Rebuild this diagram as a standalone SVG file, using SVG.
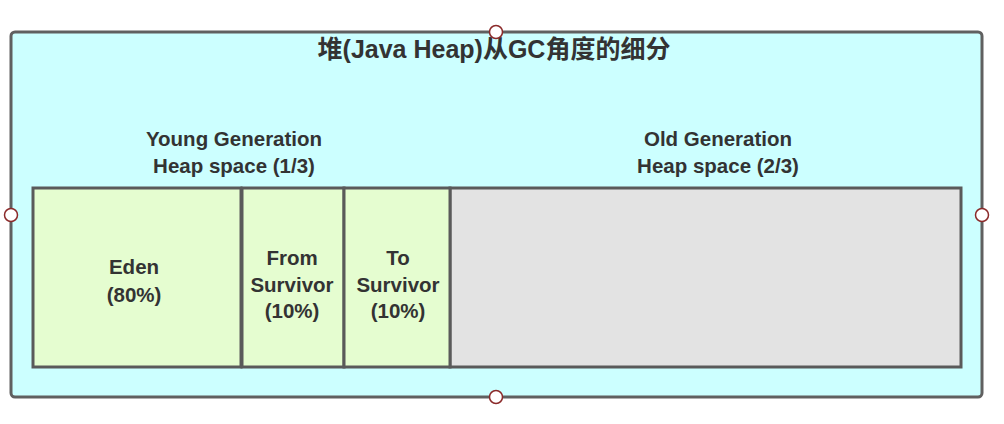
<svg xmlns="http://www.w3.org/2000/svg" width="1004" height="424" viewBox="0 0 1004 424">
<style>
.t{font-family:"Liberation Sans","Noto Sans CJK SC",sans-serif;font-weight:bold;fill:#333333;text-anchor:middle;font-size:20.5px}
.title{font-size:25px}
.box{stroke:#5a5a5a;stroke-width:3}
.young{fill:#e5fdd0}
.old{fill:#e3e3e3}
.port{fill:#ffffff;stroke:#8b2a2a;stroke-width:1.5}
</style>
<rect width="1004" height="424" fill="#ffffff"/>
<g id="heap">
<rect x="11" y="32" width="971" height="365" rx="4" fill="#ccffff" stroke="#606060" stroke-width="3"/>
<text class="t title" x="494" y="58">堆(Java Heap)从GC角度的细分</text>
<text class="t" x="234" y="146">Young Generation</text>
<text class="t" x="234" y="173">Heap space (1/3)</text>
<text class="t" x="718" y="146">Old Generation</text>
<text class="t" x="718" y="173">Heap space (2/3)</text>
</g>
<g id="old">
<rect class="box old" x="450" y="188" width="511" height="179"/>
</g>
<g id="eden">
<rect class="box young" x="33" y="188" width="208" height="179"/>
<text class="t" x="134" y="274">Eden</text>
<text class="t" x="134" y="302">(80%)</text>
</g>
<g id="from">
<rect class="box young" x="242" y="188" width="102" height="179"/>
<text class="t" x="292" y="265">From</text>
<text class="t" x="292" y="292">Survivor</text>
<text class="t" x="292" y="318">(10%)</text>
</g>
<g id="to">
<rect class="box young" x="344" y="188" width="106" height="179"/>
<text class="t" x="398" y="265">To</text>
<text class="t" x="398" y="292">Survivor</text>
<text class="t" x="398" y="318">(10%)</text>
</g>
<g id="connectors"></g>
<g id="ports">
<circle class="port" cx="496" cy="32" r="6.5"/>
<circle class="port" cx="11" cy="215" r="6.5"/>
<circle class="port" cx="982" cy="215" r="6.5"/>
<circle class="port" cx="496" cy="397" r="6.5"/>
</g>
</svg>
